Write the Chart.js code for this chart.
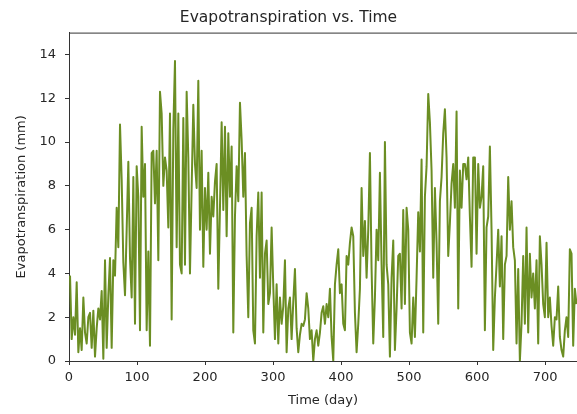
<!DOCTYPE html>
<html>
<head>
<meta charset="utf-8">
<script src="https://cdn.jsdelivr.net/npm/chart.js@4.4.1/dist/chart.umd.min.js"></script>
<style>
  html, body { margin: 0; padding: 0; background: #fff; }
  #wrap { width: 577px; height: 414px; }
</style>
</head>
<body>
<div id="wrap"><canvas id="etChart"></canvas></div>
<script>
// Daily evapotranspiration (mm) in chunks of ~95 days
const etSeg1 = [3.9, 1.0, 2.0, 1.2, 3.6, 0.4, 1.5, 0.5, 2.9, 1.3, 0.8, 2.0, 2.2, 0.6, 2.3, 0.2, 1.5, 2.4, 1.9, 3.2,
  0.1, 4.6, 0.6, 3.0, 4.7, 0.6, 4.6, 3.9, 7.0, 5.2, 10.8, 8.3, 4.5, 3.0, 6.0, 9.1, 4.7];
const etSeg2 = [2.9, 8.4, 1.7, 8.9, 7.5, 1.4, 10.7, 7.5, 9.0, 1.4, 5.0, 0.7, 9.5, 9.6, 7.2, 9.6, 4.6, 12.3, 11.3, 8.0,
  9.3, 8.7, 6.1, 11.3, 1.9, 10.6, 13.7, 5.2, 11.3, 4.4, 4.0, 11.1, 4.4, 12.3, 9.3, 4.0, 7.9, 11.7, 9.0];
const etSeg3 = [7.9, 12.8, 6.0, 9.6, 4.3, 7.9, 6.0, 8.6, 4.9, 7.5, 6.6, 8.2, 9.0, 3.3, 7.0, 10.9, 6.9, 10.7, 5.7, 10.4,
  7.5, 9.8, 1.3, 6.6, 8.9, 7.3, 11.8, 10.1, 7.5, 9.5, 4.8, 2.0, 6.3, 7.0, 1.4, 0.8, 5.7, 7.7, 3.8];
const etSeg4 = [7.7, 1.3, 4.9, 5.5, 2.6, 3.1, 6.1, 3.4, 1.0, 3.5, 0.8, 2.9, 1.7, 2.5, 4.6, 0.4, 2.4, 2.9, 1.0, 2.7,
  4.2, 1.5, 0.4, 1.2, 1.7, 1.6, 1.9, 3.1, 2.4, 1.0, 1.4, 0.0, 1.0, 1.4, 0.7, 1.3, 2.2, 2.5, 1.7];
const etSeg5 = [2.6, 2.0, 3.3, 1.1, 0.0, 3.5, 4.4, 5.1, 3.1, 3.5, 1.7, 1.4, 4.8, 4.4, 5.4, 6.1, 5.7, 2.2, 0.4, 1.7,
  3.3, 7.9, 4.8, 6.4, 3.8, 6.0, 9.5, 4.2, 0.8, 2.9, 6.0, 4.6, 8.6, 4.4, 1.1, 10.0, 4.4, 3.5, 0.2];
const etSeg6 = [3.8, 5.5, 0.5, 2.4, 4.8, 4.9, 2.4, 6.9, 2.6, 7.0, 6.0, 1.3, 0.8, 2.9, 1.1, 3.8, 6.8, 5.0, 9.2, 1.3,
  7.5, 8.9, 12.2, 10.9, 8.7, 3.8, 7.9, 5.4, 1.7, 7.3, 8.4, 10.4, 11.5, 9.3, 4.8, 6.3, 8.1, 9.0, 7.0];
const etSeg7 = [11.4, 2.4, 8.7, 7.0, 9.0, 9.0, 8.3, 9.3, 6.6, 4.3, 9.3, 9.3, 4.9, 9.0, 7.0, 7.5, 8.9, 1.4, 6.1, 6.6,
  9.8, 6.0, 0.5, 2.9, 4.4, 6.0, 3.4, 5.7, 1.0, 4.4, 4.8, 8.4, 6.0, 7.3, 5.2, 4.6, 0.8, 4.2, 0.0];
const etSeg8 = [1.7, 4.8, 1.7, 6.1, 1.3, 4.9, 2.9, 4.0, 2.4, 4.6, 0.8, 5.7, 4.4, 2.6, 2.0, 5.4, 2.0, 2.9, 1.6, 0.7,
  2.0, 1.9, 3.4, 1.1, 0.5, 0.2, 1.4, 2.0, 1.1, 5.1, 4.9, 0.7, 3.3, 2.6];

const et = [].concat(etSeg1, etSeg2, etSeg3, etSeg4, etSeg5, etSeg6, etSeg7, etSeg8);
// sample times (day)
const firstDay = 1.5;
const dayStep = 2.45;
const days = et.map((v, i) => firstDay + i * dayStep);

const xTicks = [0, 100, 200, 300, 400, 500, 600, 700];
const yTicks = [0, 2, 4, 6, 8, 10, 12, 14];

const textColor = '#262626';
const font = { family: 'DejaVu Sans', size: 13 };

// top spine like matplotlib (right one is cut off in the reference)
const spines = {
  id: 'spines',
  afterDraw(chart) {
    const { ctx, chartArea } = chart;
    ctx.save();
    ctx.strokeStyle = '#333';
    ctx.lineWidth = 1;
    ctx.beginPath();
    ctx.moveTo(chartArea.left, chartArea.top + 0.5);
    ctx.lineTo(chartArea.right, chartArea.top + 0.5);
    ctx.stroke();
    ctx.restore();
  }
};

const ctx = document.getElementById('etChart').getContext('2d');
const etChart = new Chart(ctx, {
  type: 'line',
  data: {
    datasets: [{
      label: 'Evapotranspiration',
      data: days.map((d, i) => ({ x: d, y: et[i] })),
      borderColor: '#6b8e23',
      borderWidth: 2,
      borderJoinStyle: 'round',
      pointRadius: 0,
      tension: 0,
      fill: false
    }]
  },
  options: {
    responsive: true,
    maintainAspectRatio: false,
    animation: false,
    layout: { padding: 0 },
    plugins: {
      legend: { display: false },
      tooltip: { enabled: false },
      title: {
        display: true,
        text: 'Evapotranspiration vs. Time',
        color: textColor,
        font: { family: 'DejaVu Sans', size: 15.5, weight: 'normal' },
        padding: { top: 9, bottom: 5 }
      }
    },
    scales: {
      x: {
        type: 'linear',
        min: 0,
        max: 747,
        afterBuildTicks: (scale) => { scale.ticks = xTicks.map(v => ({ value: v })); },
        afterFit: (scale) => { scale.height = 53; },
        ticks: { color: textColor, font: font, padding: 5, maxRotation: 0 },
        grid: { display: true, drawOnChartArea: false, drawTicks: true, tickLength: 4, color: '#333' },
        border: { display: true, color: '#333', width: 1 },
        title: { display: true, text: 'Time (day)', color: textColor, font: font, padding: { top: 2, bottom: 6 } }
      },
      y: {
        min: 0,
        max: 15,
        afterBuildTicks: (scale) => { scale.ticks = yTicks.map(v => ({ value: v })); },
        afterFit: (scale) => { scale.width = 69; },
        ticks: { color: textColor, font: font, padding: 9 },
        grid: { display: true, drawOnChartArea: false, drawTicks: true, tickLength: 4, color: '#333' },
        border: { display: true, color: '#333', width: 1 },
        title: { display: true, text: 'Evapotranspiration (mm)', color: textColor, font: font, padding: { top: 14, bottom: 4 } }
      }
    }
  },
  plugins: [spines]
});
</script>
</body>
</html>
